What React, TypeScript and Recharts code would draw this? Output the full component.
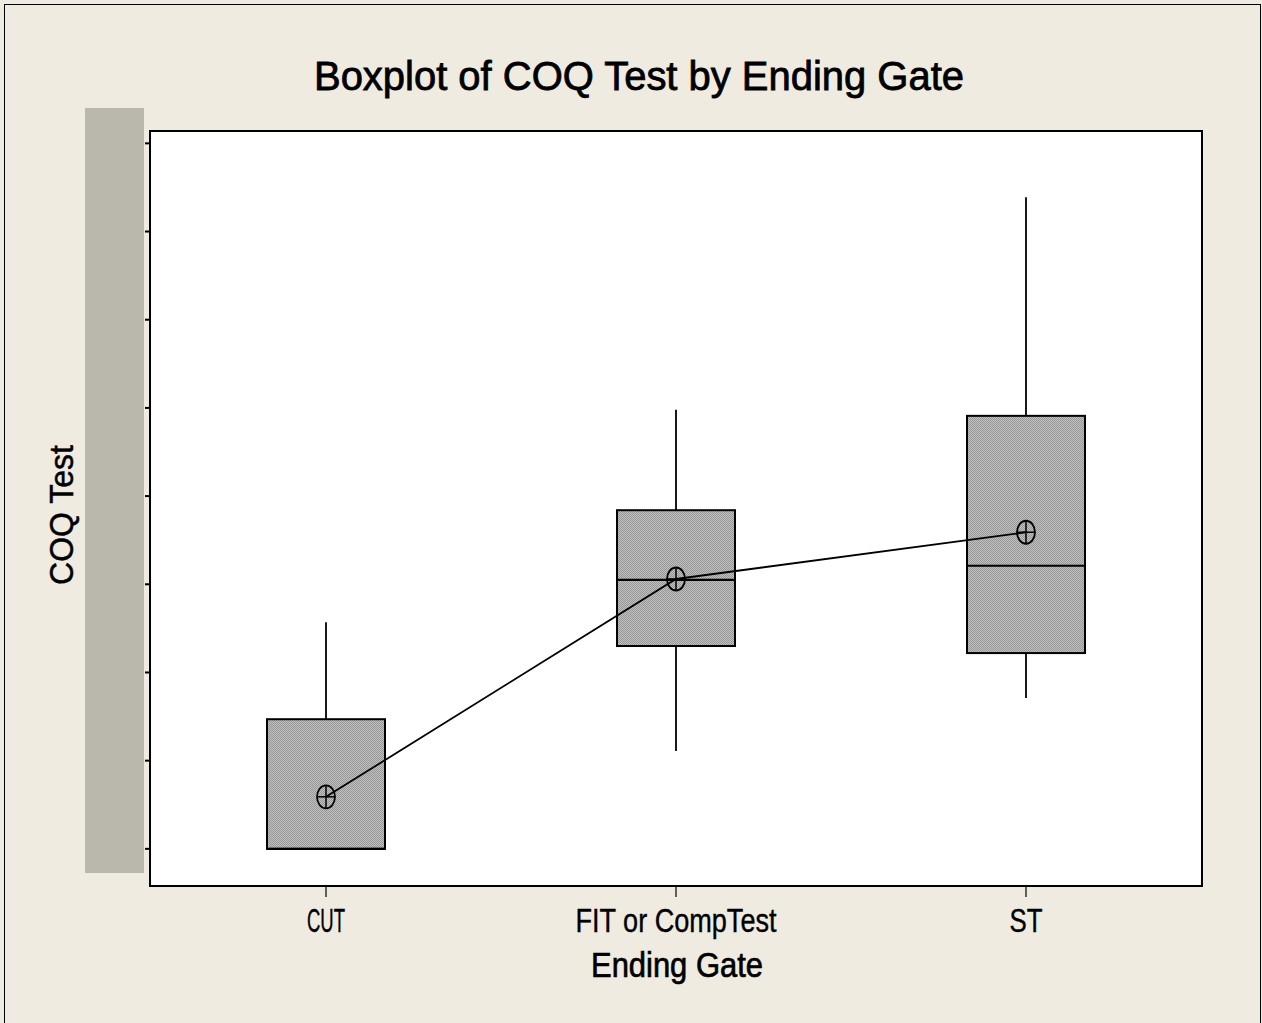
import { ComposedChart, Bar, Line, XAxis, YAxis } from 'recharts';

const gates = ['CUT', 'FIT or CompTest', 'ST'];
const whiskerLow = [0, 1.11, 1.71];
const q1 = [0, 2.3, 2.22];
const median = [0, 3.05, 3.21];
const q3 = [1.47, 3.84, 4.91];
const whiskerHigh = [2.57, 4.98, 7.39];
const means = [0.59, 3.06, 3.59];
const yTicks = [0, 1, 2, 3, 4, 5, 6, 7, 8];

const data = gates.map((gate, i) => ({
  gate,
  low: whiskerLow[i],
  q1: q1[i],
  median: median[i],
  q3: q3[i],
  high: whiskerHigh[i],
  mean: means[i],
}));

const FONT = 'Arial, "Liberation Sans", sans-serif';
const BG = '#efebe1';

// label widths in the original are squeezed, so force them
const TICK_WIDTHS: Record<string, number> = {
  CUT: 38,
  'FIT or CompTest': 201,
  ST: 33,
};

function BoxShape(props: any) {
  const { x, y, width, height, payload, index } = props;
  const span = payload.q3 - payload.q1;
  const ppu = span > 0 ? height / span : 0;
  const yOf = (v: number) => y + (payload.q3 - v) * ppu;
  const cx = x + width / 2;
  const id = `hatch-${index}`;
  return (
    <g>
      <defs>
        <pattern id={id} width={2} height={2} patternUnits="userSpaceOnUse">
          <rect width={2} height={2} fill="#c0c0c0" />
          <rect width={1} height={1} fill="#979797" />
          <rect x={1} y={1} width={1} height={1} fill="#979797" />
        </pattern>
      </defs>
      <line x1={cx} x2={cx} y1={yOf(payload.high)} y2={y} stroke="#000" strokeWidth={1.8} />
      <line x1={cx} x2={cx} y1={y + height} y2={yOf(payload.low)} stroke="#000" strokeWidth={1.8} />
      <rect x={x} y={y} width={width} height={height} fill={`url(#${id})`} stroke="#000" strokeWidth={2} />
      <line x1={x} x2={x + width} y1={yOf(payload.median)} y2={yOf(payload.median)} stroke="#000" strokeWidth={2.2} />
    </g>
  );
}

function MeanDot(props: any) {
  const { cx, cy } = props;
  return (
    <g>
      <ellipse cx={cx} cy={cy} rx={9} ry={11.5} fill="none" stroke="#000" strokeWidth={1.8} />
      <line x1={cx - 9} x2={cx + 9} y1={cy} y2={cy} stroke="#000" strokeWidth={1.5} />
      <line x1={cx} x2={cx} y1={cy - 11.5} y2={cy + 11.5} stroke="#000" strokeWidth={1.5} />
    </g>
  );
}

function XTick(props: any) {
  const { x, y, payload } = props;
  return (
    <text
      x={x}
      y={y + 33}
      textAnchor="middle"
      fontFamily={FONT}
      fontSize={33}
      textLength={TICK_WIDTHS[payload.value]}
      lengthAdjust="spacingAndGlyphs"
      fill="#000"
      stroke="#000"
      strokeWidth={0.4}
    >
      {payload.value}
    </text>
  );
}

export default function App() {
  return (
    <div style={{ position: 'absolute', left: 0, top: 0, width: 1262, height: 1023, overflow: 'hidden', background: BG }}>
      <div
        style={{
          position: 'absolute',
          left: 4,
          top: 4,
          width: 1255,
          height: 1040,
          border: '1px solid #000',
          background: BG,
        }}
      />
      <div style={{ position: 'absolute', left: 85, top: 108, width: 59, height: 765, background: '#bab8ac' }} />
      <div
        style={{
          position: 'absolute',
          left: 149,
          top: 130,
          width: 1050,
          height: 753,
          border: '2px solid #000',
          background: '#fff',
        }}
      />
      <div style={{ position: 'absolute', left: 0, top: 0 }}>
        <ComposedChart
          width={1262}
          height={1023}
          data={data}
          margin={{ top: 131, right: 61, bottom: 0, left: 0 }}
        >
          <XAxis
            dataKey="gate"
            type="category"
            height={138}
            axisLine={false}
            tickSize={12}
            tickLine={{ stroke: '#000', strokeWidth: 1.2 }}
            tick={<XTick />}
            interval={0}
          />
          <YAxis
            type="number"
            domain={[-0.41, 8.14]}
            ticks={yTicks}
            width={151}
            axisLine={false}
            tickSize={6}
            tickLine={{ stroke: '#000', strokeWidth: 2 }}
            tickFormatter={() => ''}
          />
          <Bar
            dataKey={(d: any) => [d.q1, d.q3]}
            barSize={118}
            shape={<BoxShape />}
            isAnimationActive={false}
          />
          <Line
            dataKey="mean"
            type="linear"
            stroke="#000"
            strokeWidth={1.8}
            dot={<MeanDot />}
            activeDot={false}
            isAnimationActive={false}
          />
        </ComposedChart>
      </div>
      <svg width={1262} height={1023} style={{ position: 'absolute', left: 0, top: 0, pointerEvents: 'none' }}>
        <text
          x={639}
          y={90}
          textAnchor="middle"
          fontFamily={FONT}
          fontSize={40}
          textLength={650}
          lengthAdjust="spacingAndGlyphs"
          fill="#000"
          stroke="#000"
          strokeWidth={0.8}
        >
          Boxplot of COQ Test by Ending Gate
        </text>
        <text
          x={677}
          y={977}
          textAnchor="middle"
          fontFamily={FONT}
          fontSize={35}
          textLength={172}
          lengthAdjust="spacingAndGlyphs"
          fill="#000"
          stroke="#000"
          strokeWidth={0.7}
        >
          Ending Gate
        </text>
        <text
          transform="translate(73, 515) rotate(-90)"
          textAnchor="middle"
          fontFamily={FONT}
          fontSize={34}
          textLength={140}
          lengthAdjust="spacingAndGlyphs"
          fill="#000"
          stroke="#000"
          strokeWidth={0.5}
        >
          COQ Test
        </text>
      </svg>
    </div>
  );
}
